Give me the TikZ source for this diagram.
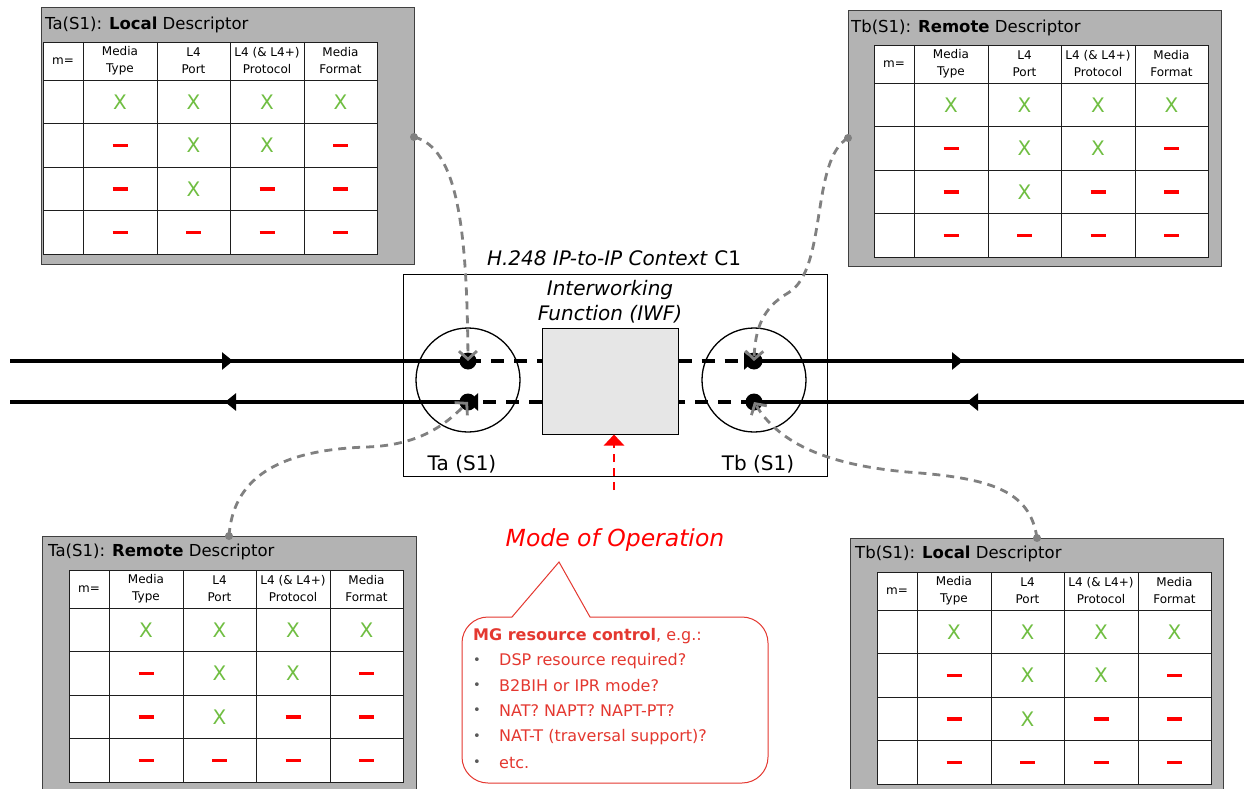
\documentclass[tikz,border=0pt]{standalone}
\usepackage{fontspec}
\setmainfont{DejaVu Sans}
\usetikzlibrary{arrows.meta,calc}
\definecolor{panelgray}{RGB}{179,179,179}
\definecolor{paneledge}{RGB}{64,64,64}
\definecolor{tabedge}{RGB}{30,30,30}
\definecolor{xgreen}{RGB}{112,190,66}
\definecolor{dred}{RGB}{255,0,0}
\definecolor{cred}{RGB}{228,56,48}
\definecolor{lgray}{RGB}{128,128,128}
\definecolor{bulgray}{RGB}{90,90,90}
\definecolor{iwfgray}{RGB}{230,230,230}
\tikzset{
  panel/.style={fill=panelgray,draw=paneledge,line width=1},
  tabline/.style={draw=tabedge,line width=0.9},
  hdr/.style={align=center,inner sep=0,font=\fontsize{12}{17}\selectfont},
  xmark/.style={inner sep=0,text=xgreen,font=\fontsize{20}{20}\selectfont},
  dmark/.style={draw=dred,line width=3.5},
  ptitle/.style={anchor=west,inner sep=0,font=\fontsize{16.5}{16.5}\selectfont},
  mainline/.style={line width=3.5,draw=black},
  maindash/.style={line width=3.5,draw=black,dash pattern=on 13 off 10},
  midtip/.style={line width=3.5,-{Triangle[length=11,width=17]}},
  tdot/.style={circle,fill=black,inner sep=0,minimum size=17},
  pdot/.style={circle,fill=lgray,inner sep=0,minimum size=8},
  gconn/.style={draw=lgray,line width=2.8,dash pattern=on 8 off 6,-{Straight Barb[length=8,width=18,line width=2.8]}},
  ctext/.style={anchor=west,inner sep=0,text=cred,font=\fontsize{16}{16}\selectfont},
  bul/.style={anchor=center,inner sep=0,text=bulgray,font=\fontsize{13}{13}\selectfont},
  bigtext/.style={inner sep=0,font=\fontsize{20}{20}\selectfont},
}
\newcommand\mkX[3]{\node[xmark] (#1) at (#2,#3) {X};}
\newcommand\mkD[3]{\coordinate (#1) at (#2,#3); \draw[dmark] ($(#1)+(-7.5,0)$) -- ($(#1)+(7.5,0)$);}
\newcommand\desctable[3]{%
\begin{scope}[shift={(#2,#3)}]
  \fill[white] (0,0) rectangle (334,212);
  \draw[tabline] (0,0) rectangle (334,212);
  \foreach \cx in {40,114,187,261} {\draw[tabline] (\cx,0) -- (\cx,212);}
  \foreach \ry in {38,81.5,125,168.5} {\draw[tabline] (0,\ry) -- (334,\ry);}
  \node[hdr] (#1h0) at (20,19) {m=};
  \node[hdr] (#1h1) at (77,19) {Media\\Type};
  \node[hdr] (#1h2) at (150.5,19) {L4\\Port};
  \node[hdr] (#1h3) at (224,19) {L4 (\& L4+)\\Protocol};
  \node[hdr] (#1h4) at (297.5,19) {Media\\Format};
  \mkX{#1a1}{77}{59.75}\mkX{#1a2}{150.5}{59.75}\mkX{#1a3}{224}{59.75}\mkX{#1a4}{297.5}{59.75}
  \mkD{#1b1}{77}{103.25}\mkX{#1b2}{150.5}{103.25}\mkX{#1b3}{224}{103.25}\mkD{#1b4}{297.5}{103.25}
  \mkD{#1c1}{77}{146.75}\mkX{#1c2}{150.5}{146.75}\mkD{#1c3}{224}{146.75}\mkD{#1c4}{297.5}{146.75}
  \mkD{#1d1}{77}{190.25}\mkD{#1d2}{150.5}{190.25}\mkD{#1d3}{224}{190.25}\mkD{#1d4}{297.5}{190.25}
\end{scope}}
\begin{document}
\begin{tikzpicture}[x=1pt,y=-1pt]
\useasboundingbox (0,0) rectangle (1244,789);
\clip (0,0) rectangle (1244,789);
\fill[white] (0,0) rectangle (1244,789);

% ---------- panels ----------
\draw[panel] (41,8) rectangle (414,264);
\node[ptitle] (tltitle) at (45,25) {Ta(S1): \textbf{Local} Descriptor};
\desctable{TL}{43}{42}

\draw[panel] (848,11) rectangle (1221,266);
\node[ptitle] (trtitle) at (851,28) {Tb(S1): \textbf{Remote} Descriptor};
\desctable{TR}{874}{45}

\draw[panel] (42,536) rectangle (416,810);
\node[ptitle] (bltitle) at (48,552) {Ta(S1): \textbf{Remote} Descriptor};
\desctable{BL}{69}{570}

\draw[panel] (850,538) rectangle (1223,810);
\node[ptitle] (brtitle) at (855,554) {Tb(S1): \textbf{Local} Descriptor};
\desctable{BR}{877}{572}

% ---------- context ----------
\draw[line width=1] (403,274) rectangle (827,476);
\node[bigtext] (ctxtitle) at (614,258) {\itshape H.248 IP-to-IP Context\/\upshape{} C1};
\node[bigtext,align=center,font=\fontsize{20}{25}\selectfont\itshape] (iwflabel) at (610,302) {Interworking\\Function (IWF)};
\node[draw=black,line width=1,fill=iwfgray,minimum width=136,minimum height=106,inner sep=0] (iwf) at (610,381) {};
\node[draw=black,line width=1.3,circle,minimum size=104,inner sep=0] (ta) at (468,380) {};
\node[draw=black,line width=1.3,circle,minimum size=104,inner sep=0] (tb) at (754,380) {};
\node[bigtext] (talabel) at (462,464) {Ta (S1)};
\node[bigtext] (tblabel) at (758,464) {Tb (S1)};

% terminations dots
\coordinate (ta1) at (468,361);
\coordinate (ta2) at (468,402);
\coordinate (tb1) at (754,361);
\coordinate (tb2) at (754,402);
\coordinate (lu) at (10,361);
\coordinate (ll) at (10,402);
\coordinate (ru) at (1244,361);
\coordinate (rl) at (1244,402);
\coordinate (iwfu1) at (iwf.west |- ta1);
\coordinate (iwfl1) at (iwf.west |- ta2);
\coordinate (iwfu2) at (iwf.east |- tb1);
\coordinate (iwfl2) at (iwf.east |- tb2);

\draw[mainline] (lu) -- (ta1);
\draw[mainline] (ll) -- (ta2);
\draw[mainline] (tb1) -- (ru);
\draw[mainline] (tb2) -- (rl);
\coordinate (a1s) at (180,361); \coordinate (a1e) at (233,361);
\coordinate (a2s) at (275,402); \coordinate (a2e) at (225,402);
\coordinate (a3s) at (910,361); \coordinate (a3e) at (963,361);
\coordinate (a4s) at (1050,402); \coordinate (a4e) at (967,402);
\draw[midtip] (a1s) -- (a1e);
\draw[midtip] (a2s) -- (a2e);
\draw[midtip] (a3s) -- (a3e);
\draw[midtip] (a4s) -- (a4e);

\draw[maindash] (ta1) -- (iwfu1);
\draw[maindash,-{Triangle[length=10,width=17]}] (iwfl1) -- (ta2);
\draw[maindash,-{Triangle[length=10,width=17]}] (iwfu2) -- (tb1);
\draw[maindash] (tb2) -- (iwfl2);

\node[tdot] (ta1d) at (ta1) {};
\node[tdot] (ta2d) at (ta2) {};
\node[tdot] (tb1d) at (tb1) {};
\node[tdot] (tb2d) at (tb2) {};

% ---------- gray dashed links ----------
\node[pdot] (tldot) at (414,137) {};
\node[pdot] (trdot) at (848,138) {};
\node[pdot] (bldot) at (229,536) {};
\node[pdot] (brdot) at (1037,538) {};
\draw[gconn] (tldot.center) .. controls (458,148) and (467,230) .. (ta1);
\draw[gconn] (trdot.center) .. controls (810,160) and (828,270) .. (788,293) .. controls (762,308) and (755,330) .. (tb1);
\draw[gconn] (bldot.center) .. controls (233,480) and (275,450) .. (367,447) .. controls (420,445) and (445,425) .. (ta2);
\draw[gconn] (brdot.center) .. controls (1030,490) and (990,478) .. (907,472) .. controls (830,465) and (780,445) .. (tb2);

% ---------- mode of operation ----------
\node[inner sep=0,text=dred,font=\fontsize{23.5}{23.5}\selectfont\itshape] (mode) at (615,540) {Mode of Operation};
\coordinate (modearr) at (614,490);
\draw[dred,line width=2.5,dash pattern=on 8 off 6,-{Triangle[length=11,width=20]}] (modearr) -- (iwf.south -| modearr);

\draw[cred,line width=1,fill=white,rounded corners=26] (462,617) rectangle (768,783);
\fill[white] (512,618) -- (559,562) -- (590,618) -- cycle;
\coordinate (pl) at (512,617); \coordinate (pa) at (559,562); \coordinate (pr) at (590,617);
\draw[cred,line width=1] (pl) -- (pa) -- (pr);

\node[ctext] (c0) at (473,636) {\textbf{MG resource control}, e.g.:};
\node[bul] (b1) at (477,661) {•}; \node[ctext] (c1) at (499,661) {DSP resource required?};
\node[bul] (b2) at (477,686) {•}; \node[ctext] (c2) at (499,686) {B2BIH or IPR mode?};
\node[bul] (b3) at (477,711) {•}; \node[ctext] (c3) at (499,711) {NAT? NAPT? NAPT-PT?};
\node[bul] (b4) at (477,737) {•}; \node[ctext] (c4) at (499,737) {NAT-T (traversal support)?};
\node[bul] (b5) at (477,763) {•}; \node[ctext] (c5) at (499,763) {etc.};
\end{tikzpicture}
\end{document}
